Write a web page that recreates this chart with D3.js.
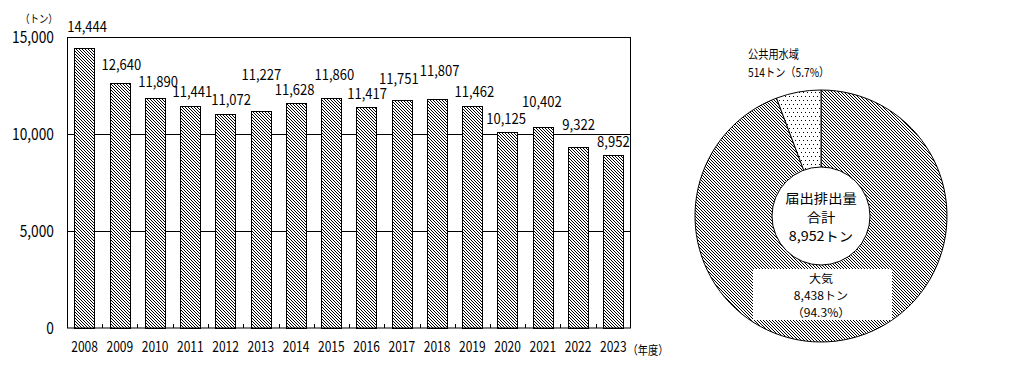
<!DOCTYPE html>
<html>
<head>
<meta charset="utf-8">
<script src="https://cdn.jsdelivr.net/npm/d3@7.9.0/dist/d3.min.js"></script>
<style>
  body { margin: 0; background: #fff; }
  svg text { font-family: "Noto Sans CJK JP", "Noto Sans", sans-serif; fill: #000; }
</style>
</head>
<body>
<svg id="chart" width="1010" height="368"></svg>
<script>
// bar chart data (届出排出量の推移)
const years = ["2008", "2009", "2010", "2011", "2012", "2013", "2014", "2015",
               "2016", "2017", "2018", "2019", "2020", "2021", "2022", "2023"];
const totals = [14444, 12640, 11890, 11441, 11072, 11227, 11628, 11860,
                11417, 11751, 11807, 11462, 10125, 10402, 9322, 8952];
const yTicks = [0, 5000, 10000, 15000];

// donut data (2023 breakdown)
const media = ["大気", "公共用水域"];
const mediaValues = [8438, 514];

// hand placed value labels (offset from bar top / centre)
const labelDx = [2.5, 1.5, 3, 2, 5.5, 0.5, -1.5, 3, 0.5, -3, 2.5, 2, -1.5, -1, 0.5, 0];
const labelDy = [-16, -13, -11, -9, -9, -31, -8, -18, -8, -16, -23, -9, -8, -20, -17, -8];

const svg = d3.select("#chart");
const fmt = d3.format(",");

// narrow text: the original font is a condensed gothic
const sx = (px, py, k) => `translate(${px},${py}) scale(${k},1)`;

// patterns
const defs = svg.append("defs");
const hatch = defs.append("pattern")
    .attr("id", "hatch")
    .attr("patternUnits", "userSpaceOnUse")
    .attr("width", 3).attr("height", 3);
hatch.append("rect").attr("width", 3).attr("height", 3).attr("fill", "#fff");
[0, 1, 2].forEach(i => {
    hatch.append("rect").attr("x", i).attr("y", i).attr("width", 1).attr("height", 1).attr("fill", "#000");
});

const dots = defs.append("pattern")
    .attr("id", "dots")
    .attr("patternUnits", "userSpaceOnUse")
    .attr("width", 4).attr("height", 8);
dots.append("rect").attr("width", 4).attr("height", 8).attr("fill", "#fff");
dots.append("rect").attr("x", 0).attr("y", 0).attr("width", 1).attr("height", 1).attr("fill", "#000");
dots.append("rect").attr("x", 2).attr("y", 4).attr("width", 1).attr("height", 1).attr("fill", "#000");

// ---- bar chart ----
const x = d3.scaleBand()
    .domain(years)
    .range([67, 631])
    .paddingInner(0.42)
    .paddingOuter(0.21);

const y = d3.scaleLinear()
    .domain([0, 15000])
    .range([328, 37.5]);

const plot = svg.append("g");

// gridlines
plot.selectAll("line.grid")
    .data(yTicks.filter(t => t > 0 && t < 15000))
    .enter()
    .append("line")
    .attr("x1", 67).attr("x2", 631)
    .attr("y1", d => Math.round(y(d)) + 0.5)
    .attr("y2", d => Math.round(y(d)) + 0.5)
    .attr("stroke", "#000");

// bars
plot.selectAll("rect.bar")
    .data(totals)
    .enter()
    .append("rect")
    .attr("x", (d, i) => Math.round(x(years[i])) + 0.5)
    .attr("y", d => Math.round(y(d)) + 0.5)
    .attr("width", Math.round(x.bandwidth()))
    .attr("height", d => Math.round(y(0)) - Math.round(y(d)))
    .attr("fill", "url(#hatch)")
    .attr("stroke", "#000");

// frame
plot.append("rect")
    .attr("x", 67.5).attr("y", 37.5)
    .attr("width", 563).attr("height", 290.5)
    .attr("fill", "none")
    .attr("stroke", "#000");

// small ticks between categories
const step = x.step();
plot.selectAll("line.tick")
    .data(years.slice(1))
    .enter()
    .append("line")
    .attr("x1", d => Math.round(x(d) - step * x.paddingInner() / 2) + 0.5)
    .attr("x2", d => Math.round(x(d) - step * x.paddingInner() / 2) + 0.5)
    .attr("y1", 328)
    .attr("y2", 324)
    .attr("stroke", "#000");

// y labels
plot.selectAll("text.ylab")
    .data(yTicks)
    .enter()
    .append("text")
    .attr("transform", d => sx(54, y(d), 0.86))
    .attr("dy", "0.36em")
    .attr("text-anchor", "end")
    .attr("font-size", 16)
    .text(d => fmt(d));

// year labels
plot.selectAll("text.xlab")
    .data(years)
    .enter()
    .append("text")
    .attr("transform", d => sx(x(d) + x.bandwidth() / 2, 352, 0.8))
    .attr("text-anchor", "middle")
    .attr("font-size", 15)
    .text(d => d);

// value labels
plot.selectAll("text.val")
    .data(totals)
    .enter()
    .append("text")
    .attr("transform", (d, i) => sx(x(years[i]) + x.bandwidth() / 2 + labelDx[i], y(d) + labelDy[i], 0.9))
    .attr("text-anchor", "middle")
    .attr("font-size", 14.5)
    .text(d => fmt(d));

// units
plot.append("text")
    .attr("transform", sx(39, 23, 0.85))
    .attr("text-anchor", "middle")
    .attr("font-size", 11)
    .text("（トン）");

plot.append("text")
    .attr("transform", sx(648, 355, 0.85))
    .attr("text-anchor", "middle")
    .attr("font-size", 12)
    .text("（年度）");

// ---- donut ----
const total = d3.sum(mediaValues);
const pct = d3.format(".1f");
const cx = 821, cy = 216;

const pie = d3.pie().sort(null).value(d => d);
const arcData = pie(mediaValues);
const arc = d3.arc().innerRadius(0).outerRadius(126);

const donut = svg.append("g").attr("transform", `translate(${cx},${cy})`);

donut.selectAll("path")
    .data(arcData)
    .enter()
    .append("path")
    .attr("d", arc)
    .attr("fill", (d, i) => i === 0 ? "url(#hatch)" : "url(#dots)")
    .attr("stroke", "#000");

donut.append("circle")
    .attr("r", 49)
    .attr("fill", "#fff")
    .attr("stroke", "#000");

// centre text
const centreLines = ["届出排出量", "合計", `${fmt(total)}トン`];
donut.selectAll("text.centre")
    .data(centreLines)
    .enter()
    .append("text")
    .attr("transform", (d, i) => sx(0, -13 + i * 19, 1.1))
    .attr("text-anchor", "middle")
    .attr("font-size", 13)
    .text(d => d);

// 大気 label box
donut.append("rect")
    .attr("x", 753 - cx).attr("y", 269 - cy)
    .attr("width", 139).attr("height", 51)
    .attr("fill", "#fff");

const airLines = [media[0], `${fmt(mediaValues[0])}トン`, `（${pct(mediaValues[0] / total * 100)}%）`];
donut.selectAll("text.air")
    .data(airLines)
    .enter()
    .append("text")
    .attr("transform", (d, i) => sx(0, [283, 300, 317][i] - cy, 1.05))
    .attr("text-anchor", "middle")
    .attr("font-size", 11.5)
    .text(d => d);

// 公共用水域 label
const waterLines = [media[1], `${fmt(mediaValues[1])}トン（${pct(mediaValues[1] / total * 100)}%）`];
svg.selectAll("text.water")
    .data(waterLines)
    .enter()
    .append("text")
    .attr("transform", (d, i) => sx(748, [59, 77][i], 0.85))
    .attr("font-size", 12)
    .text(d => d);
</script>
</body>
</html>
